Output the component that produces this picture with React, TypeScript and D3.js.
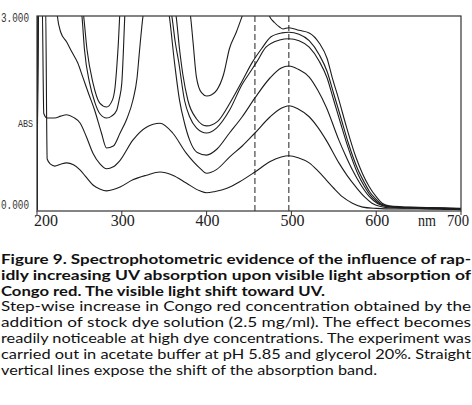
import React from 'react';
import * as d3 from 'd3';

type Pt = [number, number];

// wavelength (nm) -> absorbance; values above 3 are off scale
const curve1: Pt[] = [
  [200, 0.02], [201, 3.3], [210, 3.3], [212, 0.8], [216, 0.72], [221, 0.69], [228, 0.72], [235, 0.74],
  [243, 0.71], [251, 0.63], [258, 0.52], [266, 0.4], [274, 0.34], [282, 0.31], [290, 0.33], [298, 0.37],
  [313, 0.48], [329, 0.55], [345, 0.6], [360, 0.55], [376, 0.43], [392, 0.31], [400, 0.28], [410, 0.3],
  [424, 0.35], [439, 0.45], [457, 0.6], [475, 0.76], [488, 0.83], [497, 0.85], [508, 0.82], [521, 0.74],
  [531, 0.62], [541, 0.48], [550, 0.35], [560, 0.22], [572, 0.12], [584, 0.06], [600, 0.04], [620, 0.03],
  [650, 0.03], [680, 0.025], [700, 0.02],
];
const curve2: Pt[] = [
  [200, 0.02], [201.2, 3.3], [206, 3.3], [208, 1.5], [212, 1.43], [221, 1.43], [228, 1.46], [235, 1.48],
  [243, 1.44], [251, 1.35], [258, 1.15], [266, 0.89], [274, 0.73], [282, 0.65], [290, 0.68], [298, 0.78],
  [313, 1.09], [329, 1.29], [345, 1.35], [360, 1.2], [376, 0.89], [392, 0.66], [400, 0.58], [412, 0.64],
  [427, 0.83], [442, 1.0], [457, 1.2], [475, 1.45], [488, 1.58], [497, 1.62], [508, 1.57], [521, 1.45],
  [531, 1.29], [541, 1.09], [556, 0.74], [566, 0.54], [576, 0.37], [586, 0.22], [595, 0.12], [605, 0.07],
  [620, 0.045], [650, 0.04], [680, 0.03], [700, 0.025],
];
const curve3: Pt[] = [
  [200, 0.02], [201.5, 3.3], [222, 3.3], [224, 3.0], [228, 2.75], [235, 2.6], [241, 2.45], [248, 2.28],
  [254, 2.06], [261, 1.8], [268, 1.55], [276, 1.2], [282, 0.97], [290, 1.0], [298, 1.2], [306, 1.42],
  [313, 1.7], [318, 2.05], [321, 2.48], [325, 3.0], [332, 3.4], [345, 3.5], [352, 3.3], [356, 3.0],
  [362, 2.3], [368, 1.71], [374, 1.35], [380, 1.09], [389, 0.9], [400, 0.86], [412, 0.95], [427, 1.2],
  [442, 1.45], [457, 1.74], [475, 2.05], [488, 2.2], [497, 2.23], [508, 2.18], [521, 2.06], [531, 1.86],
  [541, 1.6], [556, 1.09], [564, 0.85], [572, 0.63], [582, 0.4], [592, 0.22], [602, 0.11], [612, 0.07],
  [630, 0.05], [660, 0.045], [690, 0.035], [700, 0.03],
];
const curve4: Pt[] = [
  [200, 0.02], [201.8, 3.3], [250, 3.3], [253, 3.0], [256, 2.48], [262, 1.97], [268, 1.68], [274, 1.5],
  [282, 1.43], [288, 1.46], [294, 1.55], [297, 1.72], [300, 1.97], [302, 2.5], [303.5, 3.0], [306, 3.4],
  [350, 3.4], [359, 3.0], [363, 2.6], [367, 2.3], [374, 1.7], [380, 1.45], [388, 1.28], [400, 1.2],
  [412, 1.28], [427, 1.55], [442, 1.95], [452, 2.15], [459, 2.29], [470, 2.52], [486, 2.63], [497, 2.65],
  [509, 2.62], [521, 2.52], [533, 2.3], [542, 2.05], [550, 1.7], [558, 1.35], [567, 0.97], [578, 0.58],
  [586, 0.38], [592, 0.26], [600, 0.15], [607, 0.09], [620, 0.06], [650, 0.05], [680, 0.04], [700, 0.03],
];
const curve5: Pt[] = [
  [200, 0.02], [202, 3.3], [252, 3.3], [255, 3.0], [259, 2.48], [266, 1.97], [274, 1.66], [282, 1.6],
  [289, 1.71], [292, 1.9], [294, 2.2], [296, 2.6], [297.5, 3.0], [300, 3.4], [355, 3.4], [364, 3.0],
  [368, 2.5], [372, 2.1], [378, 1.7], [388, 1.42], [400, 1.31], [413, 1.38], [427, 1.65], [442, 2.0],
  [454, 2.29], [465, 2.5], [476, 2.68], [489, 2.74], [497, 2.75], [509, 2.72], [521, 2.62], [533, 2.4],
  [542, 2.15], [550, 1.8], [558, 1.45], [567, 1.05], [578, 0.65], [586, 0.44], [592, 0.3], [600, 0.18],
  [607, 0.1], [620, 0.065], [650, 0.055], [680, 0.045], [700, 0.035],
];
const curve6: Pt[] = [
  [200, 0.02], [202.2, 3.3], [375, 3.3], [381, 3.0], [384, 2.6], [388, 2.06], [394, 1.82], [400, 1.77],
  [406, 1.79], [412, 1.86], [420, 2.1], [427, 2.5], [435, 2.75], [442, 3.0], [450, 3.3], [462, 3.35],
  [470, 3.15], [474, 3.0], [480, 2.9], [486, 2.83], [490, 2.8], [497, 2.82], [509, 2.78], [521, 2.74],
  [533, 2.58], [542, 2.35], [548, 2.06], [556, 1.71], [565, 1.29], [576, 0.83], [584, 0.57], [592, 0.37],
  [600, 0.22], [607, 0.12], [615, 0.08], [630, 0.065], [660, 0.055], [685, 0.045], [700, 0.04],
];
const spectra = [curve1, curve2, curve3, curve4, curve5, curve6];

const wavelengthTicks = [200, 300, 400, 500, 600, 700];
const shiftLines = [457, 497];

const captionBold = [
  'Figure 9. Spectrophotometric evidence of the influence of rap-',
  'idly increasing UV absorption upon visible light absorption of',
  'Congo red. The visible light shift toward UV.',
];
const captionBody = [
  'Step-wise increase in Congo red concentration obtained by the',
  'addition of stock dye solution (2.5 mg/ml). The effect becomes',
  'readily noticeable at high dye concentrations. The experiment was',
  'carried out in acetate buffer at pH 5.85 and glycerol 20%. Straight',
  'vertical lines expose the shift of the absorption band.',
];

const W = 472;
const H = 405;
const left = 37, right = 461, top = 16, bottom = 211;

export default function App() {
  const x = d3.scaleLinear().domain([200, 700]).range([left, right]);
  const y = d3.scaleLinear().domain([0, 3]).range([bottom, top]);
  const line = d3.line<Pt>()
    .x(d => x(d[0]))
    .y(d => y(d[1]))
    .curve(d3.curveMonotoneX);

  const captionLines = [
    ...captionBold.map((t, i) => ({ t, bold: true, last: i === captionBold.length - 1 })),
    ...captionBody.map((t, i) => ({ t, bold: false, last: i === captionBody.length - 1 })),
  ];
  const lastWidths: Record<string, number> = {
    [captionBold[2]]: 324,
    [captionBody[4]]: 376,
  };

  // the end labels are nudged inwards, as in the scan
  const labelX = (t: number) => (t === 200 ? x(t) + 9 : t === 700 ? x(t) - 3 : x(t) + 1);

  return (
    <svg width={W} height={H} style={{ position: 'absolute', left: 0, top: 0, background: '#fff' }}>
      <defs>
        <clipPath id="plot">
          <rect x={left} y={top} width={right - left} height={bottom - top} />
        </clipPath>
      </defs>

      <g clipPath="url(#plot)">
        {shiftLines.map(w => (
          <line key={w} x1={x(w)} x2={x(w)} y1={top} y2={bottom}
            stroke="#222" strokeWidth={1} strokeDasharray="6,3" />
        ))}
        {spectra.map((c, i) => (
          <path key={i} d={line(c) ?? ''} fill="none" stroke="#1c1c1c" strokeWidth={1.1} />
        ))}
      </g>

      <rect x={left} y={top} width={right - left} height={bottom - top}
        fill="none" stroke="#333" strokeWidth={1.2} />
      {wavelengthTicks.map(t => (
        <line key={t} x1={x(t)} x2={x(t)} y1={bottom} y2={bottom + 4} stroke="#333" strokeWidth={1} />
      ))}

      <g fontFamily="'Liberation Serif', serif" fontSize={17} fill="#222">
        {wavelengthTicks.map(t => (
          <text key={t} x={labelX(t)} y={226} textAnchor="middle"
            textLength={t === 700 ? 22 : 24} lengthAdjust="spacingAndGlyphs">{t}</text>
        ))}
        <text x={427} y={226} textAnchor="middle" textLength={18} lengthAdjust="spacingAndGlyphs">nm</text>
      </g>
      <g fontFamily="'Liberation Mono', monospace" fontSize={12} fill="#333">
        <text x={1} y={22} textLength={28} lengthAdjust="spacingAndGlyphs">3.000</text>
        <text x={1} y={209} textLength={28} lengthAdjust="spacingAndGlyphs">0.000</text>
        <text x={18} y={127} fontSize={10} textLength={15} lengthAdjust="spacingAndGlyphs">ABS</text>
      </g>

      <g fontFamily="Lato, sans-serif" fontSize={13} fill="#111">
        {captionLines.map((l, i) => (
          <text key={i} x={1} y={264 + i * 15.8}
            fontWeight={l.bold ? 700 : 400}
            textLength={l.last ? lastWidths[l.t] : 470}
            lengthAdjust="spacingAndGlyphs">{l.t}</text>
        ))}
      </g>
    </svg>
  );
}
